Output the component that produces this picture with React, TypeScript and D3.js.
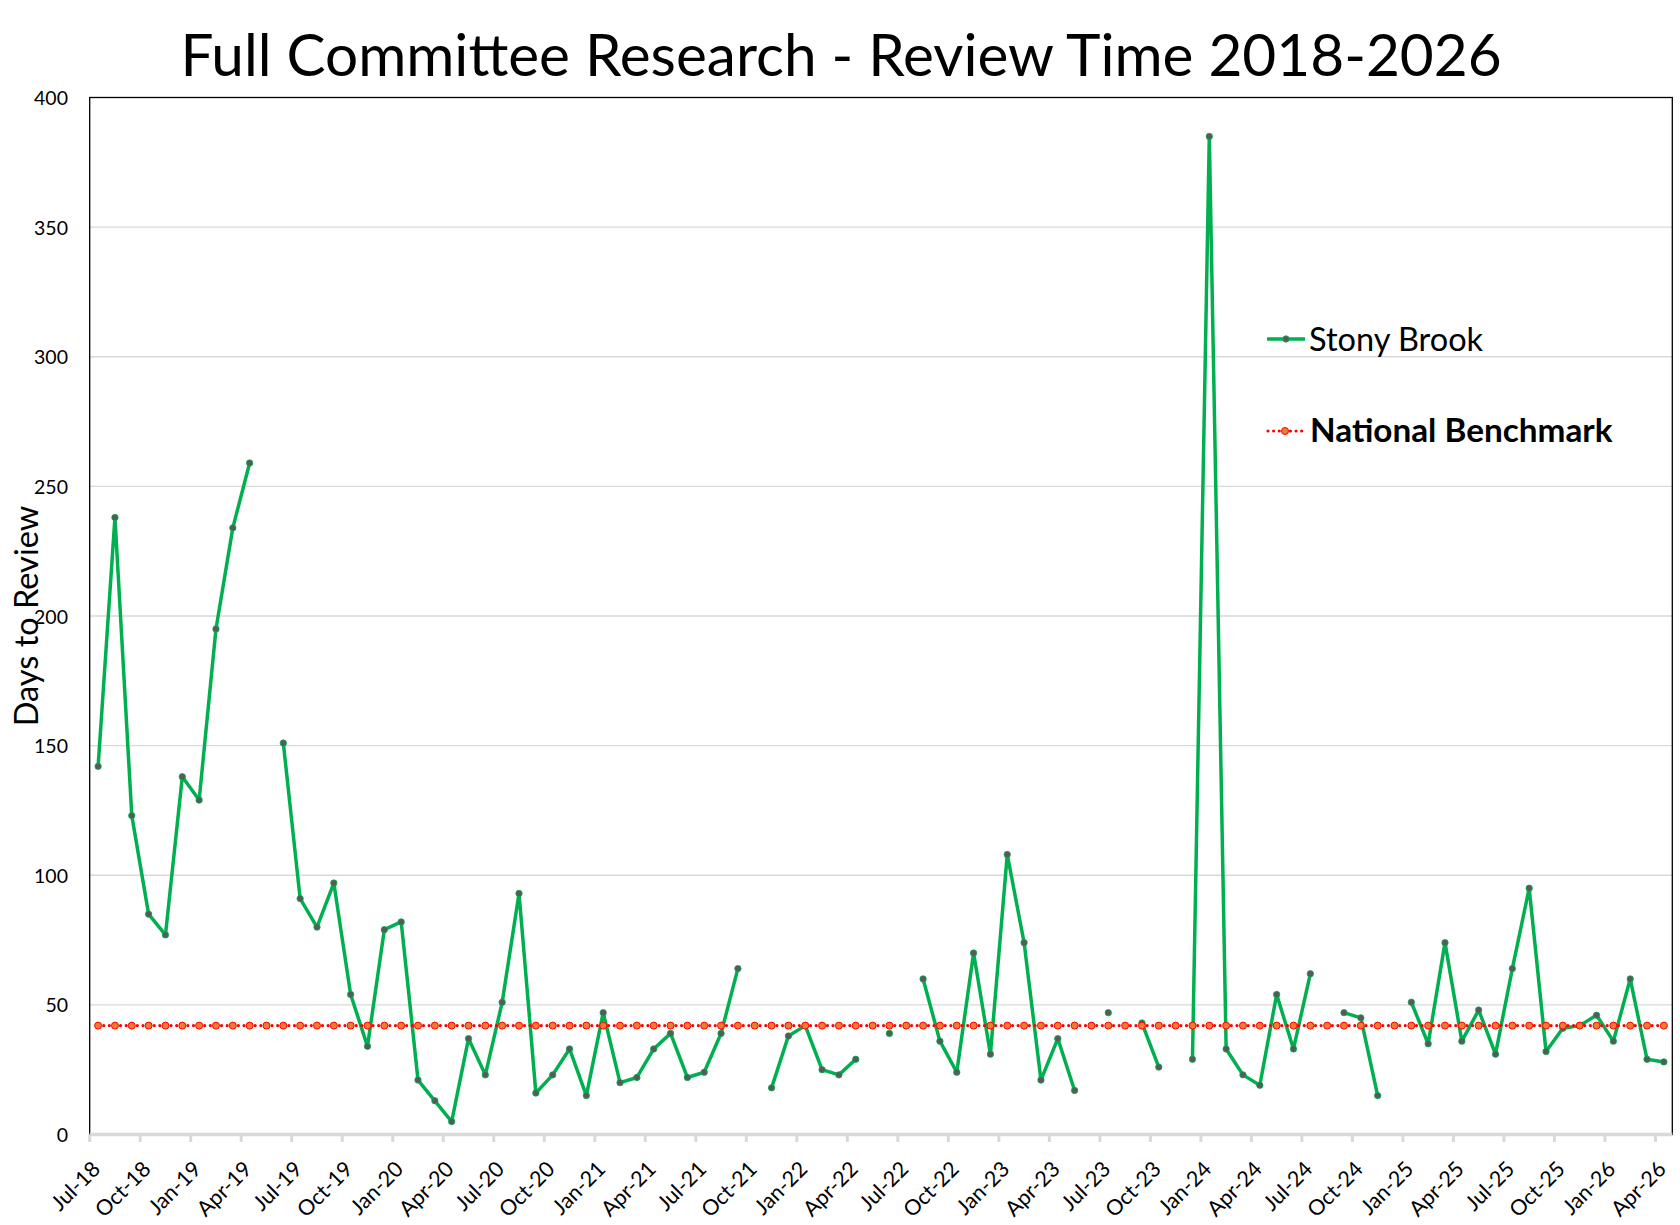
import React, { useRef, useEffect } from 'react'
import * as d3 from 'd3'

// monthly review days (null = no full committee review that month)
const stonyBrook: (number | null)[] = [
	142, 238, 123, 85, 77, 138, // Jul-18 .. Dec-18
	129, 195, 234, 259, null, 151, 91, 80, 97, 54, 34, 79, // 2019
	82, 21, 13, 5, 37, 23, 51, 93, 16, 23, 33, 15, // 2020
	47, 20, 22, 33, 39, 22, 24, 39, 64, null, 18, 38, // 2021
	42, 25, 23, 29, null, 39, null, 60, 36, 24, 70, 31, // 2022
	108, 74, 21, 37, 17, null, 47, null, 43, 26, null, 29, // 2023
	385, 33, 23, 19, 54, 33, 62, null, 47, 45, 15, null, // 2024
	51, 35, 74, 36, 48, 31, 64, 95, 32, 41, 42, 46, // 2025
	36, 60, 29, 28, // Jan-26 .. Apr-26
]

const nationalBenchmark = 42

const tickLabels = [
	'Jul-18', 'Oct-18', 'Jan-19', 'Apr-19', 'Jul-19', 'Oct-19', 'Jan-20', 'Apr-20',
	'Jul-20', 'Oct-20', 'Jan-21', 'Apr-21', 'Jul-21', 'Oct-21', 'Jan-22', 'Apr-22',
	'Jul-22', 'Oct-22', 'Jan-23', 'Apr-23', 'Jul-23', 'Oct-23', 'Jan-24', 'Apr-24',
	'Jul-24', 'Oct-24', 'Jan-25', 'Apr-25', 'Jul-25', 'Oct-25', 'Jan-26', 'Apr-26',
]

const yTicks = [0, 50, 100, 150, 200, 250, 300, 350, 400]

const months = d3
	.timeMonth.range(new Date(2018, 6, 1), new Date(2026, 4, 1))
	.map(d3.timeFormat('%b-%y'))

const FONT = 'Lato, Carlito, Calibri, sans-serif'

const App = () => {
	const svgRef = useRef<SVGSVGElement | null>(null)

	//svg size and plot area
	const svgWidth = 1680,
		svgHeight = 1225
	const left = 89.7,
		right = 1672.3,
		top = 97.5,
		bottom = 1134.5

	useEffect(() => {
		const svg = d3.select(svgRef.current)
		svg.selectAll('*').remove()

		const x = d3.scaleBand().domain(months).range([left, right]).padding(0)
		const xc = (m: string) => x(m)! + x.bandwidth() / 2
		const y = d3.scaleLinear().domain([0, 400]).range([bottom, top])

		// gridlines
		svg
			.append('g')
			.selectAll('line')
			.data(yTicks.filter((t) => t > 0 && t < 400))
			.enter()
			.append('line')
			.attr('x1', left)
			.attr('x2', right)
			.attr('y1', (d) => y(d))
			.attr('y2', (d) => y(d))
			.attr('stroke', '#d9d9d9')
			.attr('stroke-width', 1.3)

		// plot border
		svg
			.append('rect')
			.attr('x', left)
			.attr('y', top)
			.attr('width', right - left)
			.attr('height', bottom - top)
			.attr('fill', 'none')
			.attr('stroke', '#000')
			.attr('stroke-width', 1.3)

		// y tick labels
		svg
			.append('g')
			.selectAll('text')
			.data(yTicks)
			.enter()
			.append('text')
			.text((d) => d)
			.attr('x', 68)
			.attr('y', (d) => y(d))
			.attr('text-anchor', 'end')
			.attr('dominant-baseline', 'central')
			.style('font-family', FONT)
			.style('font-size', '19.5px')
			.style('fill', '#000')

		// x axis (grey, thick) with tick marks at quarter starts
		svg
			.append('line')
			.attr('x1', left)
			.attr('x2', right)
			.attr('y1', bottom)
			.attr('y2', bottom)
			.attr('stroke', '#d9d9d9')
			.attr('stroke-width', 3.5)

		svg
			.append('g')
			.selectAll('line')
			.data(tickLabels)
			.enter()
			.append('line')
			.attr('x1', (d) => x(d)!)
			.attr('x2', (d) => x(d)!)
			.attr('y1', bottom)
			.attr('y2', bottom + 7.5)
			.attr('stroke', '#d9d9d9')
			.attr('stroke-width', 3)

		svg
			.append('g')
			.selectAll('text')
			.data(tickLabels)
			.enter()
			.append('text')
			.text((d) => d)
			.attr('transform', (d) => `translate(${xc(d) + 3.5},${bottom + 36}) rotate(-45)`)
			.attr('text-anchor', 'end')
			.style('font-family', FONT)
			.style('font-size', '21.5px')
			.style('fill', '#000')

		// Stony Brook series
		const line = d3
			.line<number | null>()
			.defined((d) => d != null)
			.x((d, i) => xc(months[i]))
			.y((d) => y(d as number))

		svg
			.append('path')
			.datum(stonyBrook)
			.attr('d', line)
			.attr('fill', 'none')
			.attr('stroke', '#00B050')
			.attr('stroke-width', 3.5)
			.attr('stroke-linejoin', 'round')

		svg
			.append('g')
			.selectAll('circle')
			.data(stonyBrook.map((v, i) => ({ v, m: months[i] })).filter((d) => d.v != null))
			.enter()
			.append('circle')
			.attr('cx', (d) => xc(d.m))
			.attr('cy', (d) => y(d.v as number))
			.attr('r', 3.2)
			.attr('fill', '#595959')
			.attr('stroke', '#00B050')
			.attr('stroke-width', 0.8)

		// National benchmark
		svg
			.append('line')
			.attr('x1', xc(months[0]))
			.attr('x2', xc(months[months.length - 1]))
			.attr('y1', y(nationalBenchmark))
			.attr('y2', y(nationalBenchmark))
			.attr('stroke', '#FF0000')
			.attr('stroke-width', 3.2)
			.attr('stroke-linecap', 'round')
			.attr('stroke-dasharray', '0.01 5.6')

		svg
			.append('g')
			.selectAll('circle')
			.data(months)
			.enter()
			.append('circle')
			.attr('cx', (d) => xc(d))
			.attr('cy', y(nationalBenchmark))
			.attr('r', 3.5)
			.attr('fill', '#ED7D31')
			.attr('stroke', '#FF0000')
			.attr('stroke-width', 1)

		// legend
		const legend = svg.append('g')
		legend
			.append('line')
			.attr('x1', 1267)
			.attr('x2', 1305)
			.attr('y1', 339)
			.attr('y2', 339)
			.attr('stroke', '#00B050')
			.attr('stroke-width', 3.5)
		legend
			.append('circle')
			.attr('cx', 1286)
			.attr('cy', 339)
			.attr('r', 3.2)
			.attr('fill', '#595959')
			.attr('stroke', '#00B050')
			.attr('stroke-width', 0.8)
		legend
			.append('text')
			.text('Stony Brook')
			.attr('x', 1309)
			.attr('y', 350.7)
			.style('font-family', FONT)
			.style('font-size', '32.5px')
			.style('fill', '#000')

		legend
			.append('line')
			.attr('x1', 1268)
			.attr('x2', 1303)
			.attr('y1', 431)
			.attr('y2', 431)
			.attr('stroke', '#FF0000')
			.attr('stroke-width', 3.2)
			.attr('stroke-linecap', 'round')
			.attr('stroke-dasharray', '0.01 5.6')
		legend
			.append('circle')
			.attr('cx', 1285)
			.attr('cy', 431)
			.attr('r', 3.5)
			.attr('fill', '#ED7D31')
			.attr('stroke', '#FF0000')
			.attr('stroke-width', 1)
		legend
			.append('text')
			.text('National Benchmark')
			.attr('x', 1310)
			.attr('y', 441.7)
			.style('font-family', FONT)
			.style('font-size', '33.3px')
			.style('font-weight', 'bold')
			.style('fill', '#000')

		// titles
		svg
			.append('text')
			.text('Full Committee Research - Review Time 2018-2026')
			.attr('x', 841)
			.attr('y', 76)
			.attr('text-anchor', 'middle')
			.style('font-family', FONT)
			.style('font-size', '58.5px')
			.style('fill', '#000')

		svg
			.append('text')
			.text('Days to Review')
			.attr('transform', 'translate(38.3,616) rotate(-90)')
			.attr('text-anchor', 'middle')
			.style('font-family', FONT)
			.style('font-size', '32.5px')
			.style('fill', '#000')
	}, [])

	return (
		<svg
			ref={svgRef}
			width={svgWidth}
			height={svgHeight}
			style={{ position: 'absolute', left: 0, top: 0, background: '#fff' }}
		></svg>
	)
}

export default App
